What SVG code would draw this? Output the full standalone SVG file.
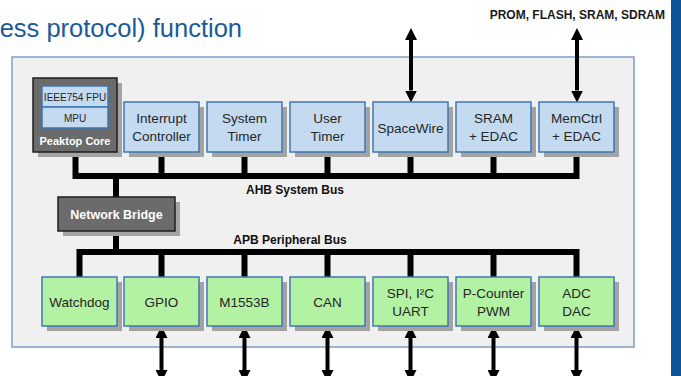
<svg xmlns="http://www.w3.org/2000/svg" width="681" height="376" viewBox="0 0 681 376">
<style>
text{font-family:"Liberation Sans",Arial,sans-serif}
.t{font-size:13.5px;fill:#262626;text-anchor:middle}
.b{font-weight:bold}
.blue{fill:#c3daf1;stroke:#3f77b3;stroke-width:1.5}
.green{fill:#b3f1a3;stroke:#3f77b3;stroke-width:1.5}
.dark{fill:#6b6b6b;stroke:#1e1e1e;stroke-width:1.5}
.sh{fill:#a3a3a3}
.bus{fill:none;stroke:#000;stroke-width:6;stroke-linejoin:miter}
.arr{fill:none;stroke:#000;stroke-width:4;marker-start:url(#ah);marker-end:url(#ah)}
</style>
<defs>
<marker id="ah" viewBox="0 -6 12 12" refX="0" refY="0" markerWidth="12" markerHeight="12" markerUnits="userSpaceOnUse" orient="auto-start-reverse">
<path d="M0,-6 L12,0 L0,6 z" fill="#000"/>
</marker>
</defs>
<rect x="0" y="0" width="681" height="376" fill="#fff"/>
<rect x="671" y="0" width="10" height="376" fill="#0d5596"/>
<text x="242" y="37" font-size="25.5" fill="#1b5a98" text-anchor="end">ess protocol) function</text>
<text x="665" y="19" font-size="12" class="b" fill="#1a1a1a" text-anchor="end">PROM, FLASH, SRAM, SDRAM</text>
<rect x="12" y="57" width="622" height="290" fill="#f0f0f0" stroke="#7f9ec3" stroke-width="1.5"/>

<g id="connectors">
<path class="bus" d="M75.5 152 V176 H576.5 V152"/>
<path class="bus" d="M161.5 152 V176 M244.5 152 V176 M327.5 152 V176 M410.5 152 V176 M493.5 152 V176 M116 176 V197"/>
<path class="bus" d="M79.5 277 V252 H576.5 V277"/>
<path class="bus" d="M161.5 277 V252 M244.5 277 V252 M327.5 277 V252 M410.5 277 V252 M493.5 277 V252 M116 231 V252"/>
<path class="arr" d="M411 40 V90.5"/>
<path class="arr" d="M577 40 V90.5"/>
<path class="arr" d="M161.5 338 V370"/>
<path class="arr" d="M244.5 338 V370"/>
<path class="arr" d="M327.5 338 V370"/>
<path class="arr" d="M410.5 338 V370"/>
<path class="arr" d="M493.5 338 V370"/>
<path class="arr" d="M576.5 338 V370"/>
<text x="295" y="194" font-size="12" class="b" fill="#111" text-anchor="middle">AHB System Bus</text>
<text x="290" y="244" font-size="12" class="b" fill="#111" text-anchor="middle">APB Peripheral Bus</text>
</g>

<g id="peaktop">
<rect class="sh" x="38" y="83" width="84" height="74"/>
<rect class="dark" x="33" y="78" width="84" height="74"/>
<rect class="blue" x="42" y="86" width="66" height="21"/>
<rect class="blue" x="42" y="107" width="66" height="21"/>
<text x="75" y="100.5" font-size="10" fill="#262626" text-anchor="middle">IEEE754 FPU</text>
<text x="75" y="121.5" font-size="10" fill="#262626" text-anchor="middle">MPU</text>
<text x="75" y="145" font-size="11" class="b" fill="#fff" text-anchor="middle">Peaktop Core</text>
</g>
<g id="interrupt">
<rect class="sh" x="129" y="107" width="75" height="50"/>
<rect class="blue" x="124" y="102" width="75" height="50"/>
<text class="t" x="161.5" y="123">Interrupt</text><text class="t" x="161.5" y="141">Controller</text>
</g>
<g id="systimer">
<rect class="sh" x="212" y="107" width="75" height="50"/>
<rect class="blue" x="207" y="102" width="75" height="50"/>
<text class="t" x="244.5" y="123">System</text><text class="t" x="244.5" y="141">Timer</text>
</g>
<g id="usertimer">
<rect class="sh" x="295" y="107" width="75" height="50"/>
<rect class="blue" x="290" y="102" width="75" height="50"/>
<text class="t" x="327.5" y="123">User</text><text class="t" x="327.5" y="141">Timer</text>
</g>
<g id="spacewire">
<rect class="sh" x="378" y="107" width="75" height="50"/>
<rect class="blue" x="373" y="102" width="75" height="50"/>
<text class="t" x="410.5" y="132.5">SpaceWire</text>
</g>
<g id="sram">
<rect class="sh" x="461" y="107" width="75" height="50"/>
<rect class="blue" x="456" y="102" width="75" height="50"/>
<text class="t" x="493.5" y="123">SRAM</text><text class="t" x="493.5" y="141">+ EDAC</text>
</g>
<g id="memctrl">
<rect class="sh" x="544" y="107" width="75" height="50"/>
<rect class="blue" x="539" y="102" width="75" height="50"/>
<text class="t" x="576.5" y="123">MemCtrl</text><text class="t" x="576.5" y="141">+ EDAC</text>
</g>
<g id="bridge">
<rect class="sh" x="63" y="202" width="117" height="34"/>
<rect class="dark" x="58" y="197" width="117" height="34"/>
<text x="116.5" y="218.5" font-size="12.5" class="b" fill="#fff" text-anchor="middle">Network Bridge</text>
</g>
<g id="watchdog">
<rect class="sh" x="47" y="282" width="75" height="49"/>
<rect class="green" x="42" y="277" width="75" height="49"/>
<text class="t" x="79.5" y="306.5">Watchdog</text>
</g>
<g id="gpio">
<rect class="sh" x="129" y="282" width="75" height="49"/>
<rect class="green" x="124" y="277" width="75" height="49"/>
<text class="t" x="161.5" y="306.5">GPIO</text>
</g>
<g id="m1553b">
<rect class="sh" x="212" y="282" width="75" height="49"/>
<rect class="green" x="207" y="277" width="75" height="49"/>
<text class="t" x="244.5" y="306.5">M1553B</text>
</g>
<g id="can">
<rect class="sh" x="295" y="282" width="75" height="49"/>
<rect class="green" x="290" y="277" width="75" height="49"/>
<text class="t" x="327.5" y="306.5">CAN</text>
</g>
<g id="spi">
<rect class="sh" x="378" y="282" width="75" height="49"/>
<rect class="green" x="373" y="277" width="75" height="49"/>
<text class="t" x="410.5" y="298">SPI, I²C</text><text class="t" x="410.5" y="316">UART</text>
</g>
<g id="pcounter">
<rect class="sh" x="461" y="282" width="75" height="49"/>
<rect class="green" x="456" y="277" width="75" height="49"/>
<text class="t" x="493.5" y="298">P-Counter</text><text class="t" x="493.5" y="316">PWM</text>
</g>
<g id="adc">
<rect class="sh" x="544" y="282" width="75" height="49"/>
<rect class="green" x="539" y="277" width="75" height="49"/>
<text class="t" x="576.5" y="298">ADC</text><text class="t" x="576.5" y="316">DAC</text>
</g>
</svg>
